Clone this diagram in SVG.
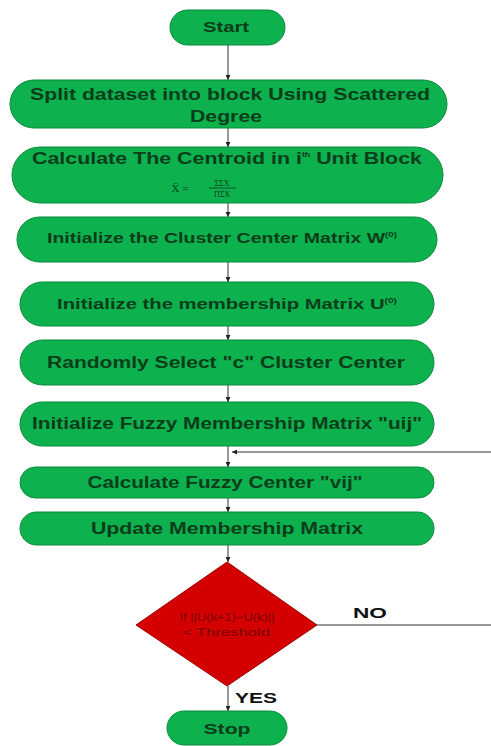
<svg xmlns="http://www.w3.org/2000/svg" width="491" height="746" viewBox="0 0 491 746">
<style>
.n{fill:#0db14e;stroke:#0a8a3a;stroke-width:1}
.t{font-family:"Liberation Sans",Arial,sans-serif;font-weight:bold;fill:#0b3d1a;text-anchor:middle}
.c{stroke:#333;stroke-width:1;fill:none}
.lb{font-family:"Liberation Sans",Arial,sans-serif;font-weight:bold;fill:#111;font-size:15px}
.d{font-family:"Liberation Sans",Arial,sans-serif;fill:#7a0000;font-size:10px;text-anchor:middle}
</style>
<defs>
<marker id="a" viewBox="0 0 6 6" refX="6" refY="3" markerWidth="5" markerHeight="5" orient="auto"><path d="M0,0L6,3L0,6z" fill="#222"/></marker>
</defs>
<rect width="491" height="746" fill="#fff"/>
<g id="connectors">
<line class="c" x1="228" y1="45" x2="228" y2="80" marker-end="url(#a)"/>
<line class="c" x1="228" y1="128" x2="228" y2="147" marker-end="url(#a)"/>
<line class="c" x1="228" y1="203" x2="228" y2="217" marker-end="url(#a)"/>
<line class="c" x1="228" y1="262" x2="228" y2="282" marker-end="url(#a)"/>
<line class="c" x1="228" y1="326" x2="228" y2="340" marker-end="url(#a)"/>
<line class="c" x1="228" y1="385" x2="228" y2="402" marker-end="url(#a)"/>
<line class="c" x1="228" y1="446" x2="228" y2="467" marker-end="url(#a)"/>
<line class="c" x1="228" y1="498" x2="228" y2="512" marker-end="url(#a)"/>
<line class="c" x1="228" y1="545" x2="228" y2="562" marker-end="url(#a)"/>
<line class="c" x1="228" y1="686" x2="228" y2="711" marker-end="url(#a)"/>
<polyline class="c" points="317,625 491,625" stroke="#666"/>
<line class="c" x1="491" y1="452" x2="232" y2="452" marker-end="url(#a)" stroke="#888"/>
<text class="lb" x="353" y="618" textLength="34" lengthAdjust="spacingAndGlyphs">NO</text>
<text class="lb" x="235" y="703" textLength="42" lengthAdjust="spacingAndGlyphs">YES</text>
</g>
<g id="start">
<rect class="n" x="170" y="10" width="115" height="35" rx="17.5"/>
<text class="t" x="226" y="32" font-size="15" textLength="46" lengthAdjust="spacingAndGlyphs">Start</text>
</g>
<g id="split">
<rect class="n" x="10" y="80" width="437" height="48" rx="24"/>
<text class="t" x="230" y="100" font-size="17" textLength="400" lengthAdjust="spacingAndGlyphs">Split dataset into block Using Scattered</text>
<text class="t" x="226" y="122" font-size="17" textLength="72" lengthAdjust="spacingAndGlyphs">Degree</text>
</g>
<g id="centroid">
<rect class="n" x="12" y="147" width="431" height="56" rx="28"/>
<text class="t" x="227" y="164" font-size="17" textLength="390" lengthAdjust="spacingAndGlyphs">Calculate The Centroid in i<tspan font-size="7" dy="-7">th</tspan><tspan dy="7"> Unit Block</tspan></text>
<text x="180" y="192" font-size="11" font-family="Liberation Serif,serif" fill="#0b3d1a" text-anchor="middle">X̄ =</text>
<text x="222" y="186" font-size="8" font-family="Liberation Serif,serif" fill="#0b3d1a" text-anchor="middle">ΣΣX</text>
<line x1="209" y1="188" x2="236" y2="188" stroke="#0b3d1a" stroke-width="0.8"/>
<text x="222" y="197" font-size="8" font-family="Liberation Serif,serif" fill="#0b3d1a" text-anchor="middle">ΠΣX</text>
</g>
<g id="initW">
<rect class="n" x="17" y="217" width="420" height="45" rx="22.5"/>
<text class="t" x="222" y="243" font-size="14" textLength="350" lengthAdjust="spacingAndGlyphs">Initialize the Cluster Center Matrix W<tspan font-size="7" dy="-6">(0)</tspan></text>
</g>
<g id="initU">
<rect class="n" x="20" y="282" width="414" height="44" rx="22"/>
<text class="t" x="227" y="309" font-size="14" textLength="340" lengthAdjust="spacingAndGlyphs">Initialize the membership Matrix U<tspan font-size="7" dy="-6">(0)</tspan></text>
</g>
<g id="random">
<rect class="n" x="20" y="340" width="414" height="45" rx="22.5"/>
<text class="t" x="226" y="368" font-size="16" textLength="358" lengthAdjust="spacingAndGlyphs">Randomly Select "c" Cluster Center</text>
</g>
<g id="fuzzyU">
<rect class="n" x="20" y="402" width="414" height="44" rx="22"/>
<text class="t" x="227" y="429" font-size="16" textLength="390" lengthAdjust="spacingAndGlyphs">Initialize Fuzzy Membership Matrix "uij"</text>
</g>
<g id="fuzzyV">
<rect class="n" x="20" y="467" width="414" height="31" rx="15.5"/>
<text class="t" x="225" y="488" font-size="16" textLength="275" lengthAdjust="spacingAndGlyphs">Calculate Fuzzy Center "vij"</text>
</g>
<g id="update">
<rect class="n" x="20" y="512" width="414" height="33" rx="16.5"/>
<text class="t" x="227" y="534" font-size="16" textLength="272" lengthAdjust="spacingAndGlyphs">Update Membership Matrix</text>
</g>
<g id="decision">
<polygon points="227,562 317,625 227,686 136,625" fill="#d40000" stroke="#a00000" stroke-width="1"/>
<text class="d" x="227" y="621" textLength="95" lengthAdjust="spacingAndGlyphs">If ||U(k+1)−U(k)||</text>
<text class="d" x="226" y="636" textLength="88" lengthAdjust="spacingAndGlyphs">&lt; Threshold</text>
</g>
<g id="stop">
<rect class="n" x="167" y="711" width="120" height="34" rx="17"/>
<text class="t" x="227" y="734" font-size="15" textLength="47" lengthAdjust="spacingAndGlyphs">Stop</text>
</g>
</svg>
